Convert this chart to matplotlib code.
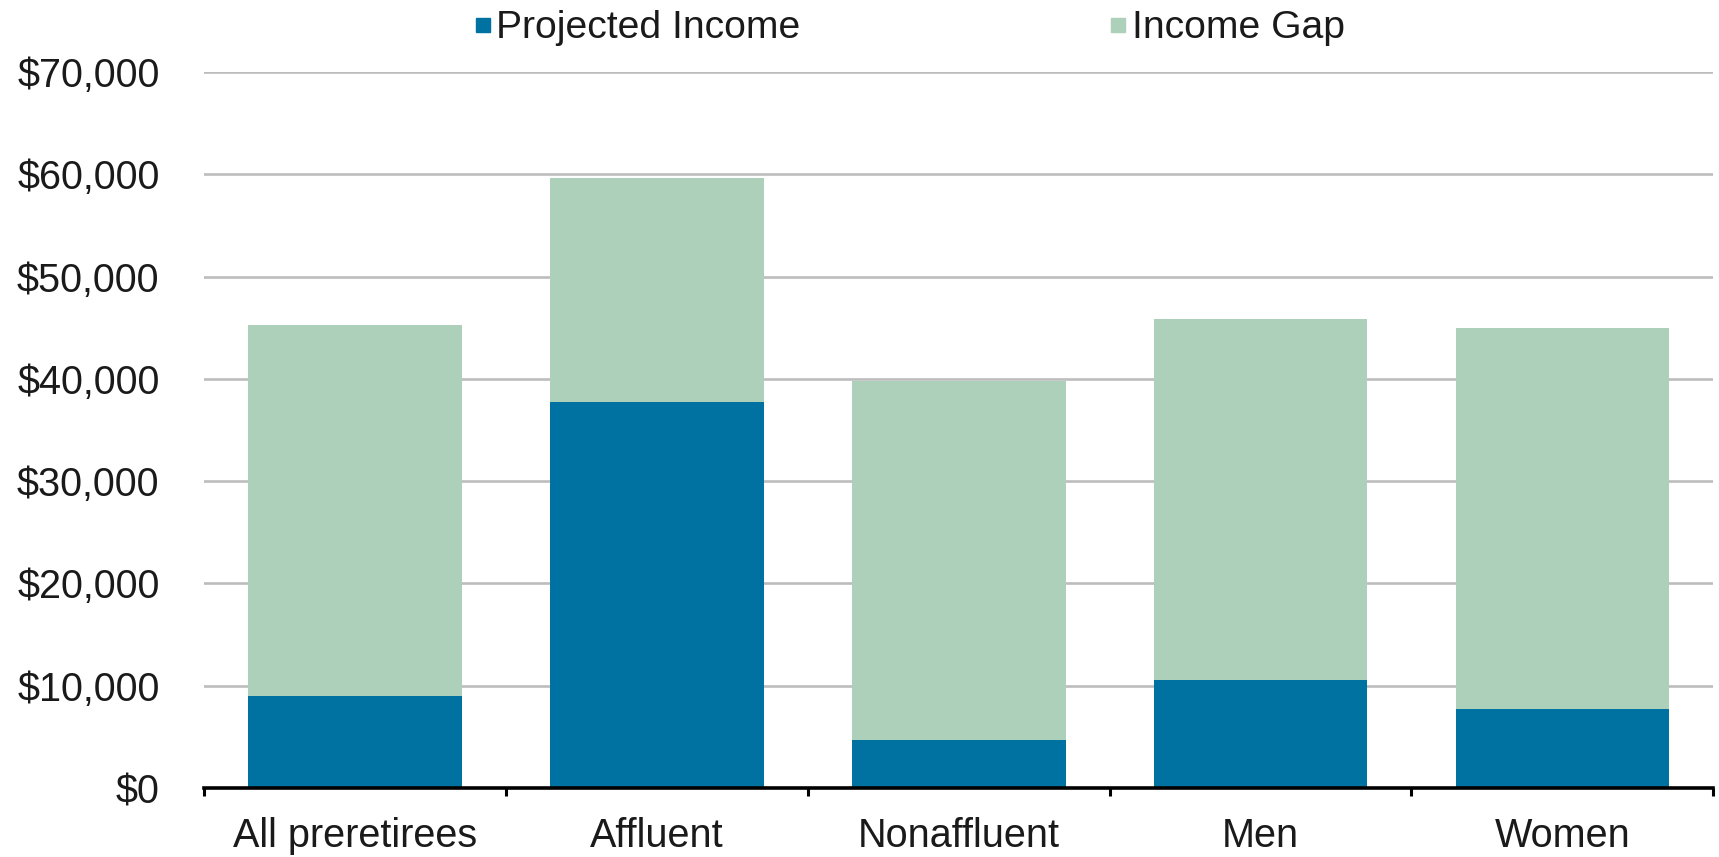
import numpy as np
import matplotlib.pyplot as plt
from matplotlib.lines import Line2D
from matplotlib.ticker import FuncFormatter, FixedLocator

plt.rcParams['font.family'] = ['Liberation Sans', 'DejaVu Sans']

# data
categories = ['All preretirees', 'Affluent', 'Nonaffluent', 'Men', 'Women']
projected_income = [9000, 37700, 4700, 10600, 7700]
total_need = [45300, 59600, 39800, 45900, 45000]
income_gap = [t - p for t, p in zip(total_need, projected_income)]

blue = '#0072A2'
green = '#ADD0BB'
text_col = '#1a1a1a'

fig = plt.figure(figsize=(17.19, 8.57), dpi=100)
ax = fig.add_axes([0.1187, 0.0805, 0.878, 0.8355])

x = np.arange(len(categories))
ax.bar(x, projected_income, width=0.708, color=blue, zorder=3)
ax.bar(x, income_gap, width=0.708, bottom=projected_income, color=green, zorder=3)

ax.set_xlim(-0.5, len(categories) - 0.5)
ax.set_ylim(0, 70000)
ax.set_yticks(np.arange(0, 70001, 10000))
ax.yaxis.set_major_formatter(FuncFormatter(lambda v, p: f'${v:,.0f}'))
ax.grid(axis='y', color='#BDBDBD', linewidth=1.9, zorder=0)

ax.set_xticks(x)
ax.set_xticklabels(categories)
ax.xaxis.set_minor_locator(FixedLocator(np.arange(-0.5, len(categories), 1.0)))
ax.tick_params(axis='x', which='major', length=0, pad=21, labelsize=28.5, labelcolor=text_col)
ax.tick_params(axis='x', which='minor', length=6, width=2.2, color='black', direction='out')
ax.tick_params(axis='y', length=0, pad=32, labelsize=28.5, labelcolor=text_col)

for s in ['top', 'right', 'left']:
    ax.spines[s].set_visible(False)
ax.spines['bottom'].set_linewidth(2.6)
ax.spines['bottom'].set_color('black')
ax.spines['bottom'].set_zorder(4)

handles = [Line2D([], [], marker='s', linestyle='none', markersize=10, color=blue),
           Line2D([], [], marker='s', linestyle='none', markersize=10, color=green)]
fig.legend(handles, ['Projected Income', 'Income Gap'], loc='center',
           bbox_to_anchor=(0.529, 0.967), ncol=2, frameon=False, fontsize=28.2,
           handlelength=0.45, handletextpad=0.12, columnspacing=7.9,
           labelcolor=text_col)

plt.savefig('out.png', dpi=100)
